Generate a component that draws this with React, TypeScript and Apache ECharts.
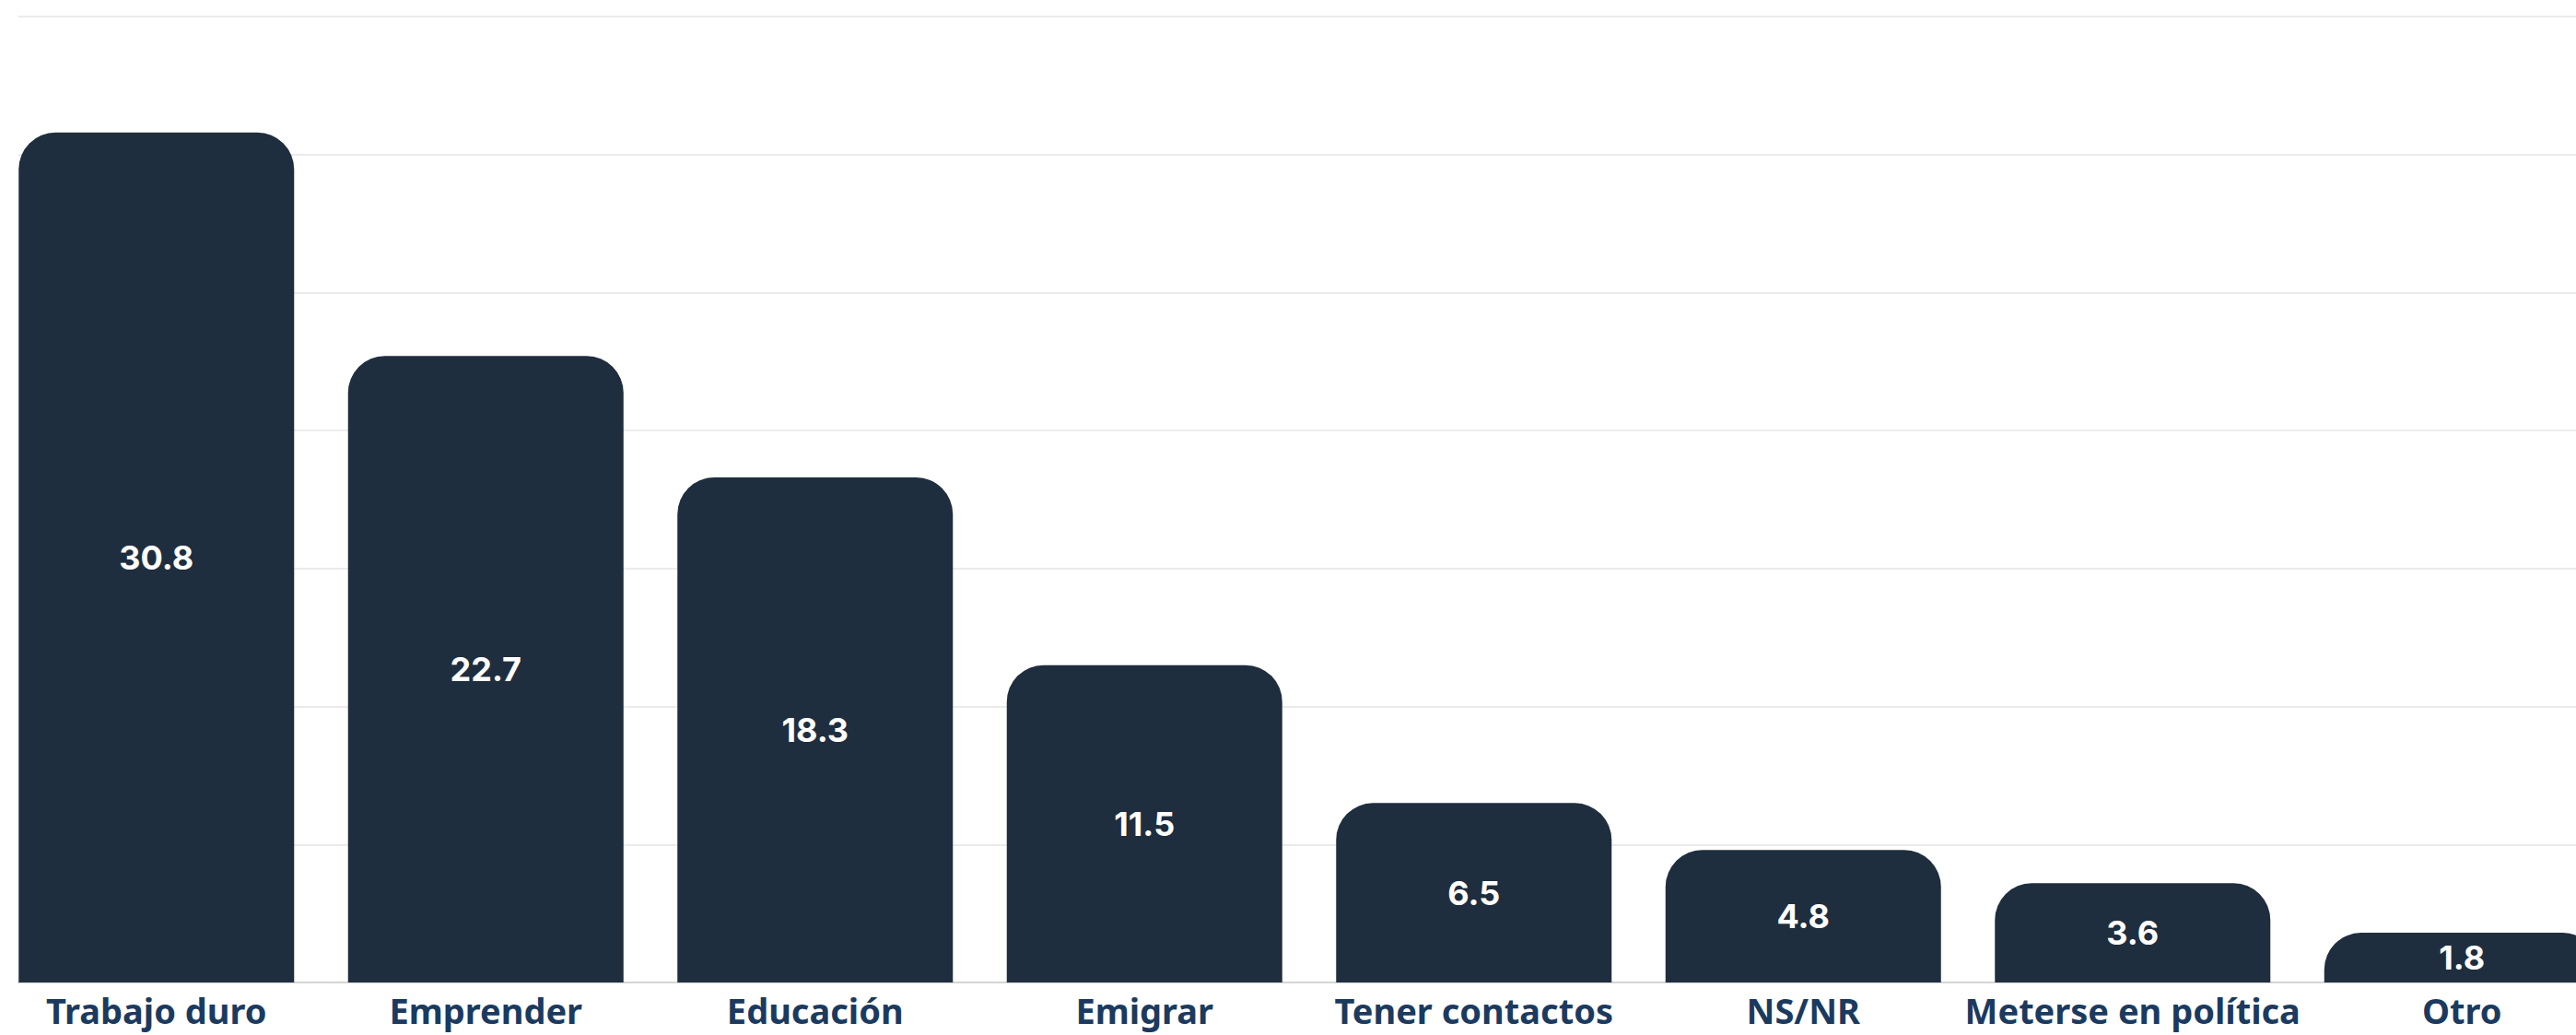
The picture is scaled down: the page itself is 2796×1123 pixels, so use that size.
import React, { useEffect, useRef } from "react";
import * as echarts from "echarts";

const categories = [
  "Trabajo duro",
  "Emprender",
  "Educación",
  "Emigrar",
  "Tener contactos",
  "NS/NR",
  "Meterse en política",
  "Otro",
];
const values = [30.8, 22.7, 18.3, 11.5, 6.5, 4.8, 3.6, 1.8];
const yMin = 0;
const yMax = 35;
const yStep = 5;

export default function App() {
  const ref = useRef<HTMLDivElement>(null);
  useEffect(() => {
    document.body.style.margin = "0";
    if (!ref.current) return;
    const chart = echarts.init(ref.current, undefined, { renderer: "svg" });
    chart.setOption({
      animation: false,
      backgroundColor: "#ffffff",
      grid: [
        { left: -9, width: 2860, top: 18, bottom: 57, containLabel: false, outerBoundsMode: "none" },
        { left: 20, right: 0, top: 18, bottom: 57, containLabel: false, outerBoundsMode: "none" },
      ],
      xAxis: [
        {
          type: "category",
          gridIndex: 0,
          data: categories,
          axisLine: { show: false },
          axisTick: { show: false },
          axisLabel: {
            color: "#1b3a60",
            fontFamily: "'Noto Sans'",
            fontWeight: "bold",
            fontSize: 38,
            margin: 11,
            interval: 0,
          },
        },
        {
          type: "value",
          gridIndex: 1,
          min: 0,
          max: 1,
          show: true,
          axisLine: { show: true, onZero: false, lineStyle: { color: "#d4d4d4", width: 2 } },
          axisTick: { show: false },
          axisLabel: { show: false },
          splitLine: { show: false },
        },
      ],
      yAxis: [
        {
          type: "value",
          gridIndex: 0,
          min: yMin,
          max: yMax,
          interval: yStep,
          axisLine: { show: false },
          axisTick: { show: false },
          axisLabel: { show: false },
          splitLine: { show: false },
        },
        {
          type: "value",
          gridIndex: 1,
          min: yMin,
          max: yMax,
          interval: yStep,
          axisLine: { show: false },
          axisTick: { show: false },
          axisLabel: { show: false },
          splitLine: { show: true, lineStyle: { color: "#ebebeb", width: 2 } },
        },
      ],
      series: [
        {
          type: "bar",
          xAxisIndex: 0,
          yAxisIndex: 0,
          data: values,
          barWidth: 299,
          itemStyle: { color: "#1f2e3e", borderRadius: [40, 40, 0, 0] },
          label: {
            show: true,
            position: "inside",
            color: "#ffffff",
            fontFamily: "Inter",
            fontWeight: "bold",
            fontSize: 36,
            formatter: (p: any) => String(p.value.toFixed(1)),
          },
          z: 3,
        },
      ],
    });
    return () => chart.dispose();
  }, []);
  return <div ref={ref} style={{ width: 2796, height: 1123 }} />;
}
